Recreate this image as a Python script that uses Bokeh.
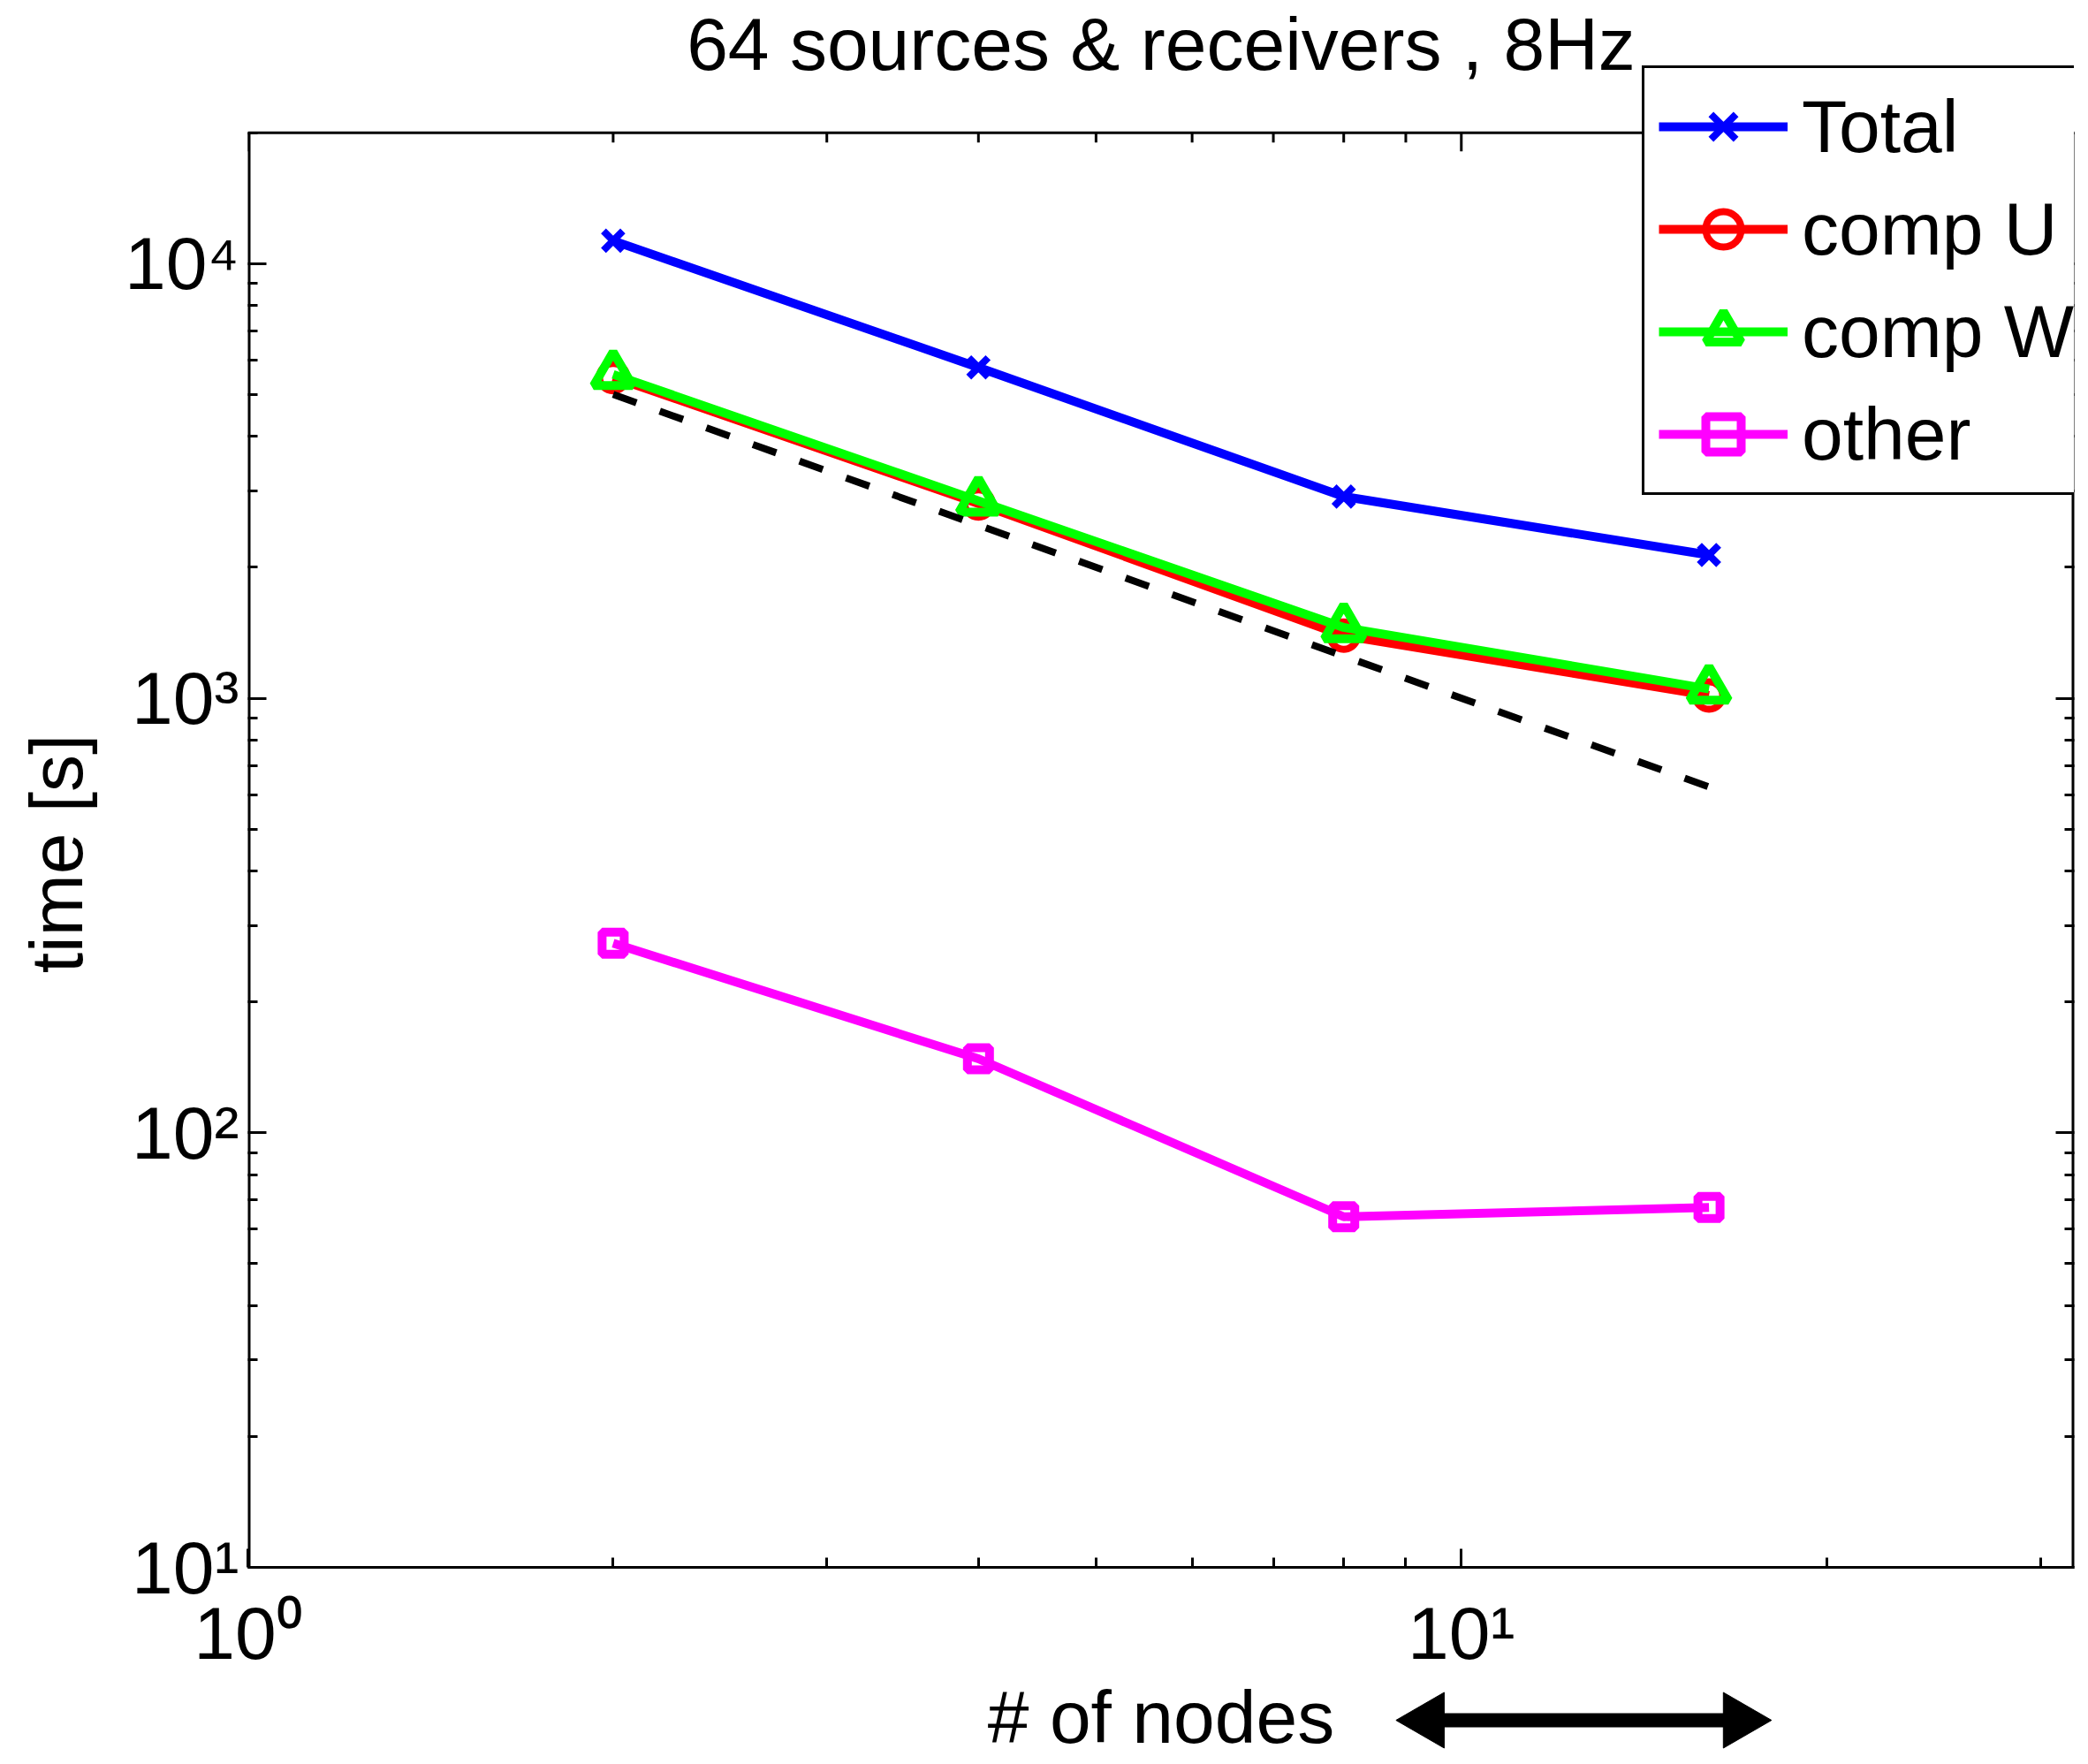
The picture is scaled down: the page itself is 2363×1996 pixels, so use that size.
import math
from bokeh.plotting import figure
from bokeh.layouts import column, row
from bokeh.models import (FixedTicker, LogAxis, Legend, LegendItem, Range1d, Label)
from bokeh.core.properties import value
from bokeh.embed import file_html
from bokeh.resources import INLINE

# ---- data ----
nodes = [2, 4, 8, 16]
total = [11290, 5770, 2910, 2136]
comp_u = [5480, 2805, 1393, 1014]
comp_w = [5560, 2845, 1455, 1050]
other = [273, 148, 64.1, 67.3]
ideal_x = [2, 16]
ideal_y = [5000, 625]

x_major = [1, 10]
x_tick_labels = {1: "10\u2070", 10: "10\u00b9"}
y_major = [10, 100, 1000, 10000]
y_tick_labels = {10: "10\u00b9", 100: "10\u00b2", 1000: "10\u00b3", 10000: "10\u2074"}

title_text = "64 sources & receivers , 8Hz"
x_label = "# of nodes"
y_label = "time [s]"
series_names = ["Total", "comp U", "comp W", "other"]

# scaling-range arrow below the x axis (head centres, in # of nodes)
arrow_head_x = [9.39, 16.95]

FONT = "Liberation Sans"
FS = "84px"
BASE_SHIFT = 34    # measured offset of Bokeh's alphabetic baseline
ROT_SHIFT = 70     # measured offset of the rotated y label along its direction

X_LO, X_HI = 1, 32
Y_LO, Y_HI = 10, 20000

W = 2355
YL_W = 120         # strip holding the y label
LEFT, RIGHT = 280, 8
BOX_TOP = 150      # px from the top of the figure to the top of the axes box
FRAME_H = 1776     # px from the top of the figure to the x axis
P_H = 1897
P2_H = 98
TOTAL_H = P_H + P2_H

x_minor = [m * 10 ** k for k in range(0, 2) for m in range(2, 10) if m * 10 ** k < X_HI]
y_minor = [m * 10 ** k for k in range(1, 5) for m in range(2, 10) if m * 10 ** k <= Y_HI]

# decades per pixel on the y axis, used to extend the frame above the axes box
dpp = (math.log10(Y_HI) - math.log10(Y_LO)) / (FRAME_H - BOX_TOP)
y_top = 10 ** (math.log10(Y_HI) + BOX_TOP * dpp)

p = figure(width=W - YL_W, height=P_H, x_axis_type="log", y_axis_type="log",
           x_range=Range1d(X_LO, X_HI), y_range=Range1d(Y_LO, y_top),
           title=None, output_backend="svg", toolbar_location=None,
           min_border_left=LEFT - YL_W, min_border_right=RIGHT,
           min_border_top=0, min_border_bottom=P_H - FRAME_H)

p.background_fill_color = "white"
p.border_fill_color = "white"
p.outline_line_color = None
p.grid.visible = False

xt = FixedTicker(ticks=x_major, minor_ticks=x_minor)
yt = FixedTicker(ticks=y_major, minor_ticks=y_minor)

bottom_ax = p.xaxis[0]
left_ax = p.yaxis[0]
bottom_ax.ticker = xt
left_ax.ticker = yt
bottom_ax.major_label_overrides = x_tick_labels
left_ax.major_label_overrides = y_tick_labels

right_ax = LogAxis(ticker=yt, major_label_overrides={t: "" for t in y_major})
p.add_layout(right_ax, "right")

for ax in [bottom_ax, left_ax, right_ax]:
    ax.axis_line_width = 3
    ax.axis_line_color = "black"
    ax.major_tick_line_width = 3
    ax.minor_tick_line_width = 3
    ax.major_tick_line_color = "black"
    ax.minor_tick_line_color = "black"
    ax.major_tick_in = 21
    ax.major_tick_out = 0
    ax.minor_tick_in = 11
    ax.minor_tick_out = 0
    ax.major_label_text_font = FONT
    ax.major_label_text_font_size = FS
    ax.major_label_text_color = "black"

left_ax.axis_line_color = None
right_ax.axis_line_color = None
right_ax.major_label_text_font_size = "2px"
right_ax.major_label_standoff = 0

bottom_ax.major_label_standoff = 27
left_ax.major_label_standoff = 10

# axes box: left/right edges (half hidden by the frame clip) and top edge with ticks
p.segment(x0=[X_LO, X_HI], y0=[Y_LO, Y_LO], x1=[X_LO, X_HI], y1=[Y_HI, Y_HI],
          line_color="black", line_width=6)
p.segment(x0=[X_LO], y0=[Y_HI], x1=[X_HI], y1=[Y_HI], line_color="black", line_width=3)
p.segment(x0=x_major, y0=[Y_HI] * len(x_major), x1=x_major,
          y1=[Y_HI / 10 ** (21 * dpp)] * len(x_major), line_color="black", line_width=3)
p.segment(x0=x_minor, y0=[Y_HI] * len(x_minor), x1=x_minor,
          y1=[Y_HI / 10 ** (11 * dpp)] * len(x_minor), line_color="black", line_width=3)

LW = 10
r_total_l = p.line(nodes, total, line_color="#0000ff", line_width=LW)
r_total_m = p.scatter(nodes, total, marker="x", size=31, line_color="#0000ff", line_width=8)
r_u_l = p.line(nodes, comp_u, line_color="#ff0000", line_width=LW)
r_u_m = p.scatter(nodes, comp_u, marker="circle", size=31, line_color="#ff0000",
                  fill_color=None, line_width=8)
r_w_l = p.line(nodes, comp_w, line_color="#00ff00", line_width=LW)
r_w_m = p.scatter(nodes, comp_w, marker="triangle", size=44, line_color="#00ff00",
                  fill_color=None, line_width=10)
r_o_l = p.line(nodes, other, line_color="#ff00ff", line_width=LW)
r_o_m = p.scatter(nodes, other, marker="square", size=25, line_color="#ff00ff",
                  fill_color=None, line_width=10)
p.line(ideal_x, ideal_y, line_color="black", line_width=8, line_dash="28 28")

frame_w = W - LEFT - RIGHT
title = Label(x=frame_w / 2, y=FRAME_H - 86 + BASE_SHIFT, x_units="screen", y_units="screen",
              text=title_text, text_align="center", text_baseline="alphabetic",
              text_font=FONT, text_font_size=FS, text_color="black")
p.add_layout(title)

legend = Legend(items=[
    LegendItem(label=series_names[0], renderers=[r_total_l, r_total_m]),
    LegendItem(label=series_names[1], renderers=[r_u_l, r_u_m]),
    LegendItem(label=series_names[2], renderers=[r_w_l, r_w_m]),
    LegendItem(label=series_names[3], renderers=[r_o_l, r_o_m]),
], location=(1858 - LEFT, FRAME_H - 563))
legend.label_text_font = FONT
legend.label_text_font_size = FS
legend.label_text_color = "black"
legend.glyph_width = 146
legend.glyph_height = 100
legend.label_height = 100
legend.label_width = 420
legend.spacing = 16
legend.padding = 16
legend.margin = 0
legend.label_standoff = 16
legend.border_line_color = "black"
legend.border_line_alpha = 1.0
legend.border_line_width = 3
legend.background_fill_color = "white"
legend.background_fill_alpha = 1.0
p.add_layout(legend, "center")

# ---- strip left of the axis: y label ----
p0 = figure(width=YL_W, height=P_H, x_range=Range1d(0, YL_W), y_range=Range1d(0, P_H),
            x_axis_location=None, y_axis_location=None, title=None,
            output_backend="svg", toolbar_location=None,
            min_border_left=0, min_border_right=0, min_border_top=0, min_border_bottom=0)
p0.outline_line_color = None
p0.grid.visible = False
p0.text(x=[97 - BASE_SHIFT], y=[P_H - (BOX_TOP + FRAME_H) / 2 - ROT_SHIFT], text=[y_label],
        angle=math.pi / 2, text_align="center", text_baseline="alphabetic",
        text_font=value(FONT), text_font_size=FS, text_color="black")

# ---- strip under the axis: x label and the double arrow ----
p2 = figure(width=W, height=P2_H, x_axis_type="log", x_range=p.x_range,
            y_range=Range1d(0, P2_H), x_axis_location=None, y_axis_location=None,
            title=None, output_backend="svg", toolbar_location=None,
            min_border_left=LEFT, min_border_right=RIGHT, min_border_top=0, min_border_bottom=0)
p2.outline_line_color = None
p2.grid.visible = False

x_mid = math.sqrt(X_LO * X_HI)
p2.text(x=[x_mid], y=[TOTAL_H - 1976 + BASE_SHIFT], text=[x_label], text_align="center",
        text_baseline="alphabetic", text_font=value(FONT), text_font_size=FS,
        text_color="black")
ay = TOTAL_H - 1946
p2.segment(x0=[arrow_head_x[0]], y0=[ay], x1=[arrow_head_x[1]], y1=[ay],
           line_color="black", line_width=16)
p2.scatter(x=arrow_head_x, y=[ay, ay], marker="triangle", size=63,
           angle=[math.pi / 2, -math.pi / 2], fill_color="black", line_color="black",
           line_width=1)

layout = column(row(p0, p, spacing=0), p2, spacing=0)
open("out.html", "w").write(file_html(layout, INLINE))
